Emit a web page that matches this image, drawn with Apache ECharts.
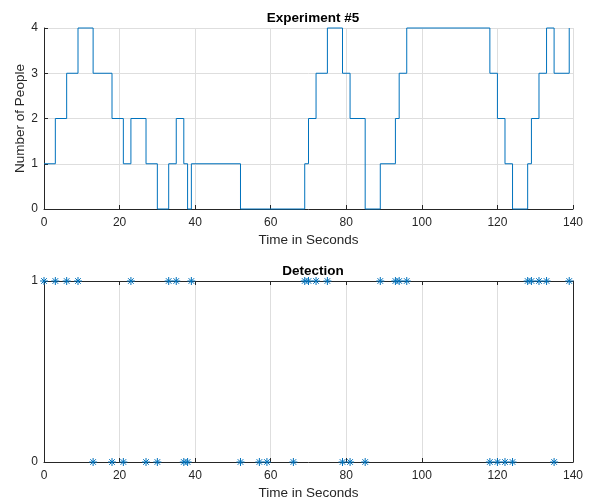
<!DOCTYPE html>
<html>
<head>
<meta charset="utf-8">
<script src="https://cdn.jsdelivr.net/npm/echarts@6/dist/echarts.min.js"></script>
<style>
html,body{margin:0;padding:0;background:#fff;}
#chart{width:590px;height:497px;}
</style>
</head>
<body>
<div id="chart"></div>
<script>
// Step trace: time of each change and the count from that time onward
var changeTimes  = [0,3,6,9,13,18,21,23,27,30,33,35,37,38,39,52,69,70,72,75,79,81,85,89,93,94,96,118,120,122,124,128,129,131,133,135,139];
var peopleCounts = [1,2,3,4,3,2,1,2,1,0,1,2,1,0,1,0,1,2,3,4,3,2,0,1,2,3,4,3,2,1,0,1,2,3,4,3,4];
// Detection events
var detectOnTimes  = [0,3,6,9,23,33,35,39,69,70,72,75,89,93,94,96,128,129,131,133,139];
var detectOffTimes = [13,18,21,27,30,37,38,52,57,59,66,79,81,85,118,120,122,124,135];
var xTicks = [0,20,40,60,80,100,120,140];

var stepData = changeTimes.map(function(t,i){return [t, peopleCounts[i]];});
var detData = detectOnTimes.map(function(t){return [t,1];})
  .concat(detectOffTimes.map(function(t){return [t,0];}));

var FONT = '"Liberation Sans", Arial, Helvetica, sans-serif';
var TXT = '#262626';
var AX = '#262626';
var GRID = '#dedede';
var BLUE = '#0072BD';
var STAR = 'path://M0,-10L0,10M-10,0L10,0M-7,-7L7,7M-7,7L7,-7';

function xAx(gi, extra){
  var o = {
    type:'value', gridIndex:gi, min:0, max:140, interval:20,
    axisLine:{show:true, onZero:false, lineStyle:{color:AX, width:1}},
    axisTick:{show:true, inside:true, length:4, lineStyle:{color:AX}},
    axisLabel:{color:TXT, fontFamily:FONT, fontSize:12, margin:8},
    splitLine:{show:true, lineStyle:{color:GRID, width:1}},
    name:'Time in Seconds', nameLocation:'middle', nameGap:24, nameMoveOverlap:false,
    nameTextStyle:{color:TXT, fontFamily:FONT, fontSize:13.5}
  };
  for (var k in extra) o[k]=extra[k];
  return o;
}

var option = {
  animation:false,
  backgroundColor:'#fff',
  title:[
    {text:'Experiment #5', left:308, top:6, textAlign:'center',
     textStyle:{fontFamily:FONT, fontSize:13.5, fontWeight:'bold', color:'#000'}},
    {text:'Detection', left:308, top:259, textAlign:'center',
     textStyle:{fontFamily:FONT, fontSize:13.5, fontWeight:'bold', color:'#000'}}
  ],
  grid:[
    {left:44, right:17, top:28, height:181, containLabel:false, outerBoundsMode:'none'},
    {left:44, right:17, top:281, height:181, containLabel:false, outerBoundsMode:'none'}
  ],
  xAxis:[
    xAx(0,{}),
    xAx(1,{}),
    {type:'value', gridIndex:1, position:'top', min:0, max:140, interval:20,
     axisLine:{show:true, onZero:false, lineStyle:{color:AX, width:1}},
     axisTick:{show:true, inside:true, length:4, lineStyle:{color:AX}},
     axisLabel:{show:false}, splitLine:{show:false}}
  ],
  yAxis:[
    {type:'value', gridIndex:0, min:0, max:4, interval:1,
     axisLine:{show:true, onZero:false, lineStyle:{color:AX, width:1}},
     axisTick:{show:true, inside:true, length:4, lineStyle:{color:AX}},
     axisLabel:{color:TXT, fontFamily:FONT, fontSize:12, margin:6},
     splitLine:{show:true, lineStyle:{color:GRID, width:1}},
     name:'Number of People', nameLocation:'middle', nameGap:17, nameMoveOverlap:false,
     nameTextStyle:{color:TXT, fontFamily:FONT, fontSize:13.5}},
    {type:'value', gridIndex:1, min:0, max:1, interval:1,
     axisLine:{show:true, onZero:false, lineStyle:{color:AX, width:1}},
     axisTick:{show:true, inside:true, length:4, lineStyle:{color:AX}},
     axisLabel:{color:TXT, fontFamily:FONT, fontSize:12, margin:6},
     splitLine:{show:false}},
    {type:'value', gridIndex:1, position:'right', min:0, max:1, interval:1,
     axisLine:{show:true, onZero:false, lineStyle:{color:AX, width:1}},
     axisTick:{show:false}, axisLabel:{show:false}, splitLine:{show:false}}
  ],
  series:[
    {type:'line', xAxisIndex:0, yAxisIndex:0, step:'end', data:stepData,
     symbol:'none', lineStyle:{color:BLUE, width:1}, clip:false, z:5},
    {type:'scatter', xAxisIndex:1, yAxisIndex:1, data:detData,
     symbol:STAR, symbolSize:8, clip:false, z:5,
     itemStyle:{color:'rgba(0,0,0,0)', borderColor:BLUE, borderWidth:1, opacity:1}}
  ]
};

var chart = echarts.init(document.getElementById('chart'), null, {renderer:'canvas'});
chart.setOption(option);
</script>
</body>
</html>
